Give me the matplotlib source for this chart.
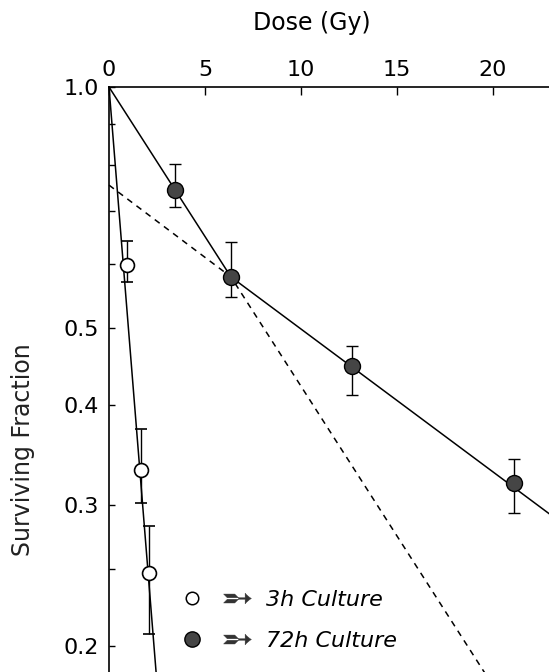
import matplotlib
matplotlib.use("Agg")
import matplotlib.pyplot as plt
from matplotlib.lines import Line2D
from matplotlib.legend_handler import HandlerTuple
from matplotlib.ticker import FixedLocator, FixedFormatter, NullFormatter
import numpy as np

plt.rcParams['font.family'] = ['DejaVu Sans']

# 3h culture
dose_3h = [0.95, 1.65, 2.1]
sf_3h = [0.599, 0.332, 0.247]
sf_3h_lo = [0.571, 0.302, 0.207]
sf_3h_hi = [0.642, 0.374, 0.283]

# 72h culture
dose_72h = [3.45, 6.35, 12.65, 21.1]
sf_72h = [0.743, 0.579, 0.448, 0.320]
sf_72h_lo = [0.708, 0.546, 0.412, 0.2935]
sf_72h_hi = [0.801, 0.640, 0.4745, 0.343]

# fitted lines
fit_3h_dose = [0, 2.45]
fit_3h_sf = [1.0, 0.186]
fit_72h_dose = [0, 6.35, 23.0]
fit_72h_sf = [1.0, 0.579, 0.292]
dash_dose = [0, 6.35, 20.5]
dash_sf = [0.754, 0.579, 0.171]

yticks = [1.0, 0.5, 0.4, 0.3, 0.2]
ytick_labels = ['1.0', '0.5', '0.4', '0.3', '0.2']
yminor = [0.9, 0.8, 0.7, 0.6, 0.25]
xticks = [0, 5, 10, 15, 20]

fig = plt.figure(figsize=(5.49, 6.72), dpi=100)
ax = fig.add_axes([109/549, 0, 440/549, 585/672])
ax.set_yscale('log')
ax.set_ylim(0.1857, 1.0)
ax.set_xlim(0, 22.92)

ax.plot(fit_3h_dose, fit_3h_sf, color='black', lw=1.1, clip_on=False, zorder=2)
ax.plot(fit_72h_dose, fit_72h_sf, color='black', lw=1.1, clip_on=False, zorder=2)
ax.plot(dash_dose, dash_sf, color='black', lw=1.1, ls=(0, (4, 3.5)), clip_on=False, zorder=2)

e3 = [np.array(sf_3h) - np.array(sf_3h_lo), np.array(sf_3h_hi) - np.array(sf_3h)]
e72 = [np.array(sf_72h) - np.array(sf_72h_lo), np.array(sf_72h_hi) - np.array(sf_72h)]
ax.errorbar(dose_3h, sf_3h, yerr=e3, fmt='o', ms=10, mfc='white', mec='black', mew=1.2,
            ecolor='black', elinewidth=1.0, capsize=4.5, capthick=1.0, zorder=3, clip_on=False)
ax.errorbar(dose_72h, sf_72h, yerr=e72, fmt='o', ms=11.5, mfc='#454545', mec='black', mew=1.0,
            ecolor='black', elinewidth=1.0, capsize=4.5, capthick=1.0, zorder=3, clip_on=False)

for s in ['right', 'bottom']:
    ax.spines[s].set_visible(False)
for s in ['top', 'left']:
    ax.spines[s].set_linewidth(1.2)

ax.xaxis.set_ticks_position('top')
ax.xaxis.set_label_position('top')
ax.set_xticks(xticks)
ax.tick_params(axis='x', direction='in', length=6, width=1.0, labelsize=16, pad=5)

ax.yaxis.set_major_locator(FixedLocator(yticks))
ax.yaxis.set_major_formatter(FixedFormatter(ytick_labels))
ax.yaxis.set_minor_locator(FixedLocator(yminor))
ax.yaxis.set_minor_formatter(NullFormatter())
ax.tick_params(axis='y', which='both', direction='in', length=4, width=1.0, labelsize=16, pad=7)

fig.text(312/549, 1 - 23/672, 'Dose (Gy)', ha='center', va='center', fontsize=17)
fig.text(23/549, 1 - 450/672, 'Surviving Fraction', rotation=90, ha='center', va='center',
         fontsize=17, color='#222222')

arrow = dict(ls='none', marker='$\u27b5$', ms=20, color='#333333', mew=0.3)
h3 = (Line2D([], [], ls='none', marker='o', ms=9, mfc='white', mec='black', mew=1.1),
      Line2D([], [], **arrow))
h72 = (Line2D([], [], ls='none', marker='o', ms=11, mfc='#454545', mec='black', mew=1.0),
       Line2D([], [], **arrow))
labels = ['3h Culture', '72h Culture']
ax.legend([h3, h72], labels, loc='upper left', bbox_to_anchor=(170/549, 1 - 590/672),
          bbox_transform=fig.transFigure, frameon=False,
          prop={'style': 'italic', 'size': 16}, handlelength=4.0, handletextpad=0.3,
          handler_map={tuple: HandlerTuple(ndivide=None, pad=0)},
          borderpad=0, borderaxespad=0, labelspacing=0.95)

fig.savefig('out.png', dpi=100)
